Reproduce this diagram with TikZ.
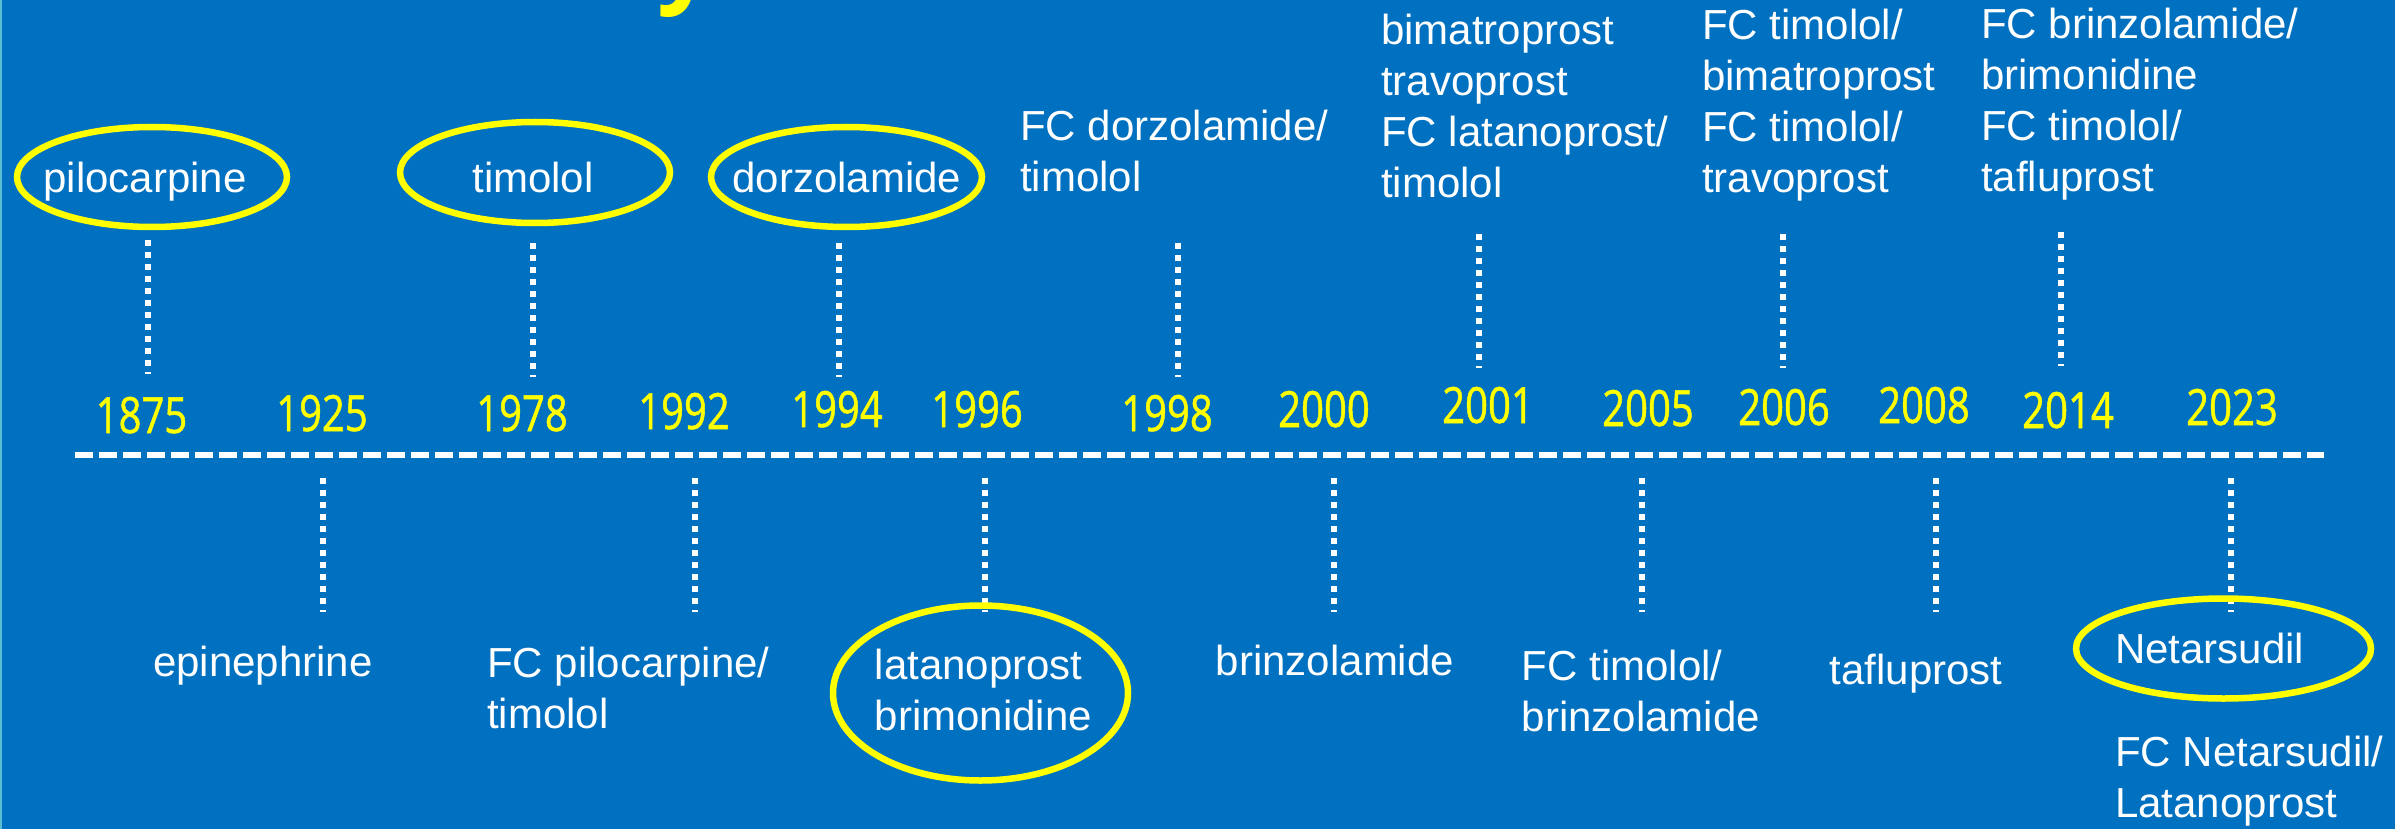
\documentclass[tikz,border=0pt]{standalone}
\usepackage{fontspec}
\setmainfont{Liberation Sans}
\newfontfamily\yearfont[FakeStretch=0.8,FakeBold=1]{Open Sans}
\newfontfamily\titlefont{Open Sans}
\usetikzlibrary{shapes.geometric}
\definecolor{slideblue}{RGB}{0,112,192}
\definecolor{edgeteal}{RGB}{90,190,210}
\definecolor{markyellow}{RGB}{255,255,0}
\newcommand\drugfont{\fontsize{42pt}{51pt}\selectfont}
\newcommand\yrfont{\yearfont\fontsize{50pt}{56pt}\selectfont}
\tikzset{drug/.style={text=white,font=\drugfont,inner sep=0pt,align=left}}
\tikzset{yr/.style={text=markyellow,font=\yrfont,inner sep=0pt,anchor=base}}
\tikzset{ring/.style={draw=markyellow,line width=6.5pt,ellipse,inner sep=0pt}}
\tikzset{tick/.style={draw=white,line width=6pt,dash pattern=on 6pt off 6pt}}

\begin{document}
\begin{tikzpicture}[x=1pt,y=-1pt]
    \useasboundingbox (0,0) rectangle (2395,829);
    \fill[slideblue] (0,0) rectangle (2395,829);
    \fill[edgeteal] (0,0) rectangle (2,829);

    % cut-off title
    \node[text=markyellow,font=\titlefont\bfseries\fontsize{100pt}{110pt}\selectfont,inner sep=0pt,anchor=base] (title) at (686,-6) {y};

    % time axis
    \coordinate (axisL) at (75,455);
    \coordinate (axisR) at (2324,455);
    \draw[white,line width=6pt,dash pattern=on 18pt off 6pt] (axisL) -- (axisR);

    % years
    \foreach \yy/\x/\b in {1875/141.5/433, 1925/322/431, 1978/522/431, 1992/684/429,
        1994/837/427, 1996/977/427, 1998/1167/431, 2000/1324/427, 2001/1488/423,
        2005/1648/426, 2006/1784/425, 2008/1924/423, 2014/2068/428, 2023/2232/425}
        \node[yr] (y\yy) at (\x,\b) {\yy};

    % ticks above the axis
    \foreach \yy/\x/\a/\b in {1875/148/240/374, 1978/532.5/243/377, 1994/838.5/243/377,
        1998/1178/243/377, 2001/1479/234/368, 2006/1783/234/368, 2014/2060.5/232/366}
    {
        \coordinate (t\yy a) at (\x,\a);
        \coordinate (t\yy b) at (\x,\b);
        \draw[tick] (t\yy a) -- (t\yy b);
    }
    % ticks below the axis
    \foreach \yy/\x in {1925/323, 1992/695, 1996/985, 2000/1334, 2005/1642,
        2008/1935.5, 2023/2231}
    {
        \coordinate (t\yy a) at (\x,478);
        \coordinate (t\yy b) at (\x,612);
        \draw[tick] (t\yy a) -- (t\yy b);
    }

    % drugs above (base = last line)
    \node[drug,anchor=base] (pilo) at (145,193) {pilocarpine};
    \node[drug,anchor=base] (timo) at (533,193) {timolol};
    \node[drug,anchor=base] (dorzo) at (847,193) {dorzolamide};
    \node[drug,anchor=base west] (fcdorzo) at (1020,192) {FC dorzolamide/\\timolol};
    \node[drug,anchor=base west] (bima) at (1381,197) {bimatroprost\\travoprost\\FC latanoprost/\\timolol};
    \node[drug,anchor=base west] (fctimo) at (1702,193) {FC timolol/\\bimatroprost\\FC timolol/\\travoprost};
    \node[drug,anchor=base west] (fcbrinzo) at (1981,192) {FC brinzolamide/\\brimonidine\\FC timolol/\\tafluprost};

    % drugs below
    \node[drug,anchor=base] (epi) at (263,676) {epinephrine};
    \node[drug,anchor=base west] (fcpilo) at (487,728) {FC pilocarpine/\\timolol};
    \node[drug,anchor=base west] (latano) at (874.5,730) {latanoprost\\brimonidine};
    \node[drug,anchor=base] (brinzo) at (1335,675) {brinzolamide};
    \node[drug,anchor=base west] (fctimobrinzo) at (1521.5,731) {FC timolol/\\brinzolamide};
    \node[drug,anchor=base] (taflu) at (1916,684) {tafluprost};
    \node[drug,anchor=base west] (netar) at (2115,663) {Netarsudil};
    \node[drug,anchor=base west] (fcnetar) at (2115,817) {FC Netarsudil/\\Latanoprost};

    % rings
    \node[ring,minimum width=270pt,minimum height=100pt] (pilo ring) at (152,177) {};
    \node[ring,minimum width=270pt,minimum height=101pt] (timo ring) at (535,172.5) {};
    \node[ring,minimum width=271pt,minimum height=100pt] (dorzo ring) at (846.5,177) {};
    \node[ring,minimum width=295pt,minimum height=175pt] (latano ring) at (980.5,693) {};
    \node[ring,minimum width=295pt,minimum height=100pt] (netar ring) at (2223.5,648.5) {};
\end{tikzpicture}
\end{document}
